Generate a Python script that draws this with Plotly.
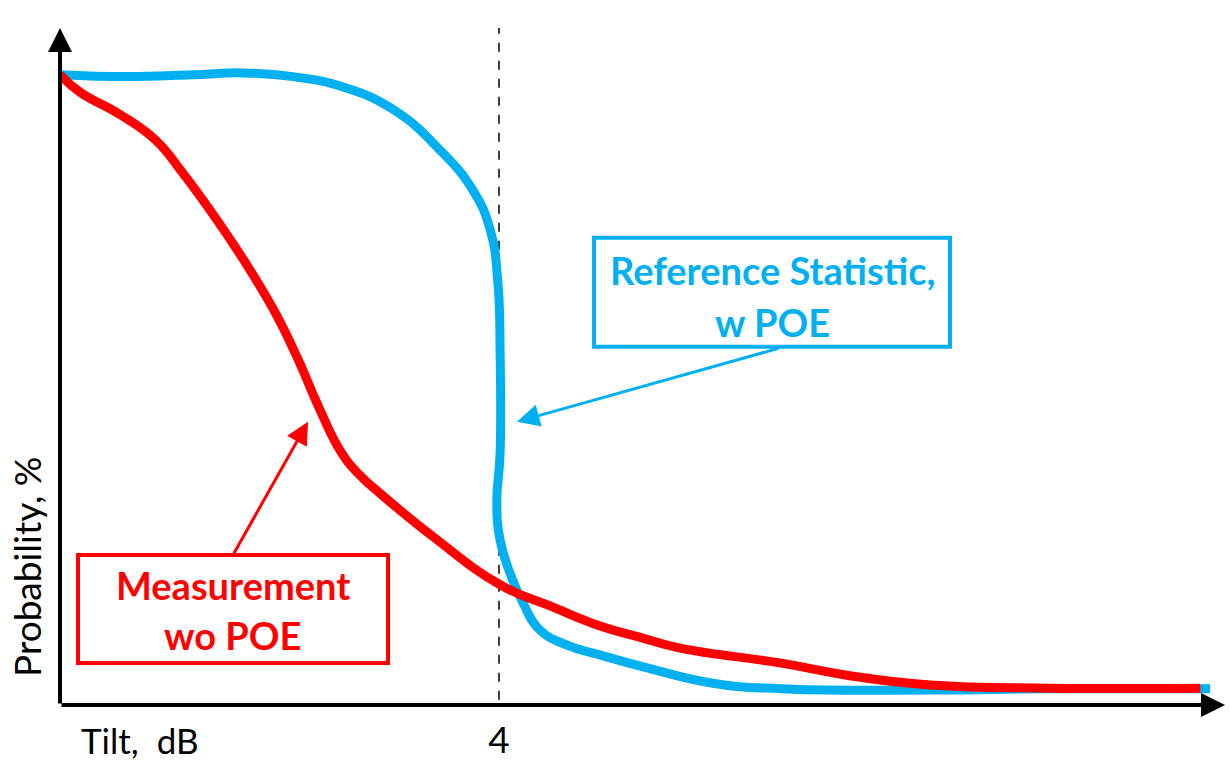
import plotly.graph_objects as go

# Reference statistic (w POE) - blue curve
ref_tilt = [0.0, 0.61, 1.21, 1.67, 2.12, 2.58, 3.04, 3.46, 3.76, 3.92, 3.99, 4.01, 4.01, 3.98, 4.01, 4.10,
            4.22, 4.37, 4.62, 4.92, 5.35, 5.95, 6.56, 7.93, 9.02, 10.48]
ref_prob = [100.0, 99.7, 100.0, 100.3, 99.7, 98.0, 94.3, 87.8, 81.3, 74.8, 66.2, 54.8, 38.5, 30.4, 24.4, 19.0,
            14.1, 9.8, 7.3, 5.7, 3.6, 1.1, 0.2, 0.0, 0.2, 0.2]

# Measurement (wo POE) - red curve
meas_tilt = [0.0, 0.18, 0.55, 0.87, 1.12, 1.43, 1.73, 1.98, 2.16, 2.37, 2.55, 2.71, 2.92, 3.40, 4.01, 4.46,
             4.92, 5.28, 5.65, 6.56, 7.17, 7.93, 9.02, 10.39]
meas_prob = [100.0, 97.2, 93.5, 89.4, 84.0, 76.4, 68.3, 60.7, 54.1, 45.5, 39.0, 35.3, 31.9, 24.9, 17.1, 13.7,
             10.4, 8.6, 6.8, 4.4, 2.4, 0.8, 0.3, 0.3]

tick_vals = [4]
tick_text = ["4"]

BLUE = "#00B0F0"
RED = "#FF0000"
FONT = "Lato"

XMAX = 10.615
YMIN, YMAX = -2.44, 107.6

fig = go.Figure()
fig.add_trace(go.Scatter(x=ref_tilt, y=ref_prob, mode="lines",
                         line=dict(color=BLUE, width=9, shape="spline", smoothing=1.3),
                         cliponaxis=False, hoverinfo="skip", showlegend=False))
fig.add_trace(go.Scatter(x=meas_tilt, y=meas_prob, mode="lines",
                         line=dict(color=RED, width=9, shape="spline", smoothing=1.3),
                         cliponaxis=False, hoverinfo="skip", showlegend=False))

shapes = [
    dict(type="line", xref="x", yref="y", x0=4, x1=4, y0=-1.6, y1=110.9,
         line=dict(color="black", width=1.5, dash="dash"), layer="below"),
    dict(type="rect", xref="x", yref="y", x0=4.866, x1=8.109, y0=55.8, y1=73.5,
         line=dict(color=BLUE, width=4), fillcolor="white", layer="above"),
    dict(type="rect", xref="x", yref="y", x0=0.164, x1=2.989, y0=4.39, y1=21.95,
         line=dict(color=RED, width=4), fillcolor="white", layer="above"),
]

annotations = [
    # axes with arrow heads
    dict(x=XMAX, y=YMIN, ax=0, ay=YMIN, xref="x", yref="y", axref="x", ayref="y",
         showarrow=True, arrowhead=2, arrowsize=1.2, arrowwidth=4, arrowcolor="black", text=""),
    dict(x=0, y=YMAX, ax=0, ay=YMIN, xref="x", yref="y", axref="x", ayref="y",
         showarrow=True, arrowhead=2, arrowsize=1.2, arrowwidth=4, arrowcolor="black", text=""),
    # callout arrows
    dict(x=2.26, y=43.6, ax=1.576, ay=21.95, xref="x", yref="y", axref="x", ayref="y",
         showarrow=True, arrowhead=2, arrowsize=1.5, arrowwidth=3, arrowcolor=RED, text=""),
    dict(x=4.164, y=43.6, ax=6.56, ay=55.6, xref="x", yref="y", axref="x", ayref="y",
         showarrow=True, arrowhead=2, arrowsize=1.5, arrowwidth=3, arrowcolor=BLUE, text=""),
    # box texts
    dict(x=6.49, y=68.3, xref="x", yref="y", showarrow=False, text="<b>Reference Statistic,</b>",
         font=dict(family=FONT, size=38, color=BLUE)),
    dict(x=6.49, y=59.8, xref="x", yref="y", showarrow=False, text="<b>w POE</b>",
         font=dict(family=FONT, size=38, color=BLUE)),
    dict(x=1.576, y=17.1, xref="x", yref="y", showarrow=False, text="<b>Measurement</b>",
         font=dict(family=FONT, size=38, color=RED)),
    dict(x=1.576, y=8.94, xref="x", yref="y", showarrow=False, text="<b>wo POE</b>",
         font=dict(family=FONT, size=38, color=RED)),
    # axis labels
    dict(x=-0.0283, y=0.204, xref="paper", yref="paper", xanchor="center", yanchor="middle",
         showarrow=False, text="Probability, %", textangle=-90,
         font=dict(family=FONT, size=37, color="black")),
    dict(x=0.0687, y=-0.051, xref="paper", yref="paper", xanchor="center", yanchor="middle",
         showarrow=False, text="Tilt,  dB",
         font=dict(family=FONT, size=35, color="black")),
]

fig.update_layout(
    width=1230, height=761,
    margin=dict(l=60, r=5, t=28, b=56, autoexpand=False),
    paper_bgcolor="white", plot_bgcolor="white",
    shapes=shapes, annotations=annotations,
    xaxis=dict(range=[0, XMAX], showgrid=False, zeroline=False, showline=False, automargin=False,
               tickvals=tick_vals, ticktext=tick_text, ticks="", ticklabelstandoff=10,
               tickfont=dict(family=FONT, size=37, color="black"), fixedrange=True),
    yaxis=dict(range=[YMIN, YMAX], showgrid=False, zeroline=False, showline=False, automargin=False,
               showticklabels=False, ticks="", fixedrange=True),
)

fig.write_html("out.html", config={"displayModeBar": False},
               post_script="document.body.style.margin='0';document.body.style.overflow='hidden';")
